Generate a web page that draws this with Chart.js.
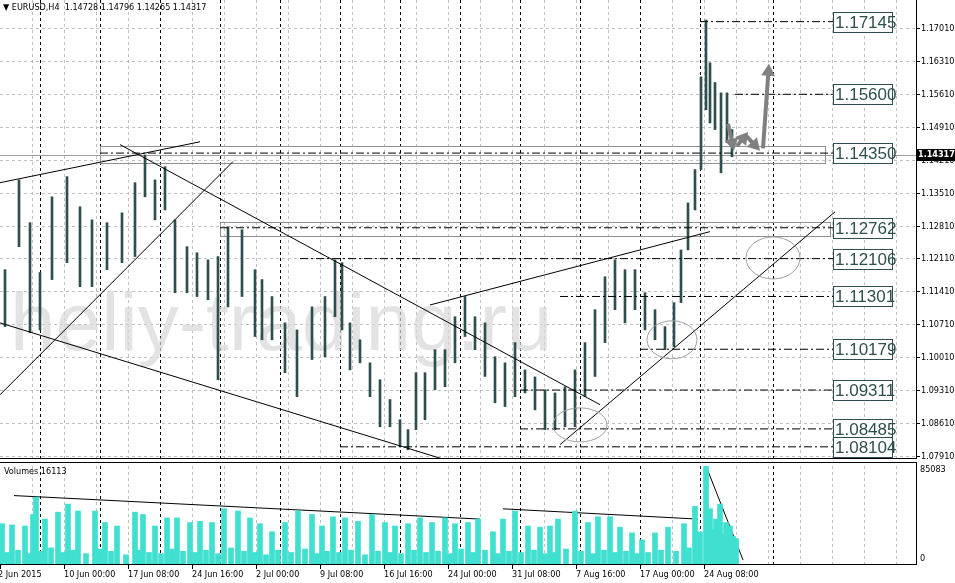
<!DOCTYPE html>
<html>
<head>
<meta charset="utf-8">
<script src="https://cdn.jsdelivr.net/npm/chart.js@4"></script>
<style>
body { margin: 0; background: #fff; width: 955px; height: 583px; overflow: hidden; position: relative; }
canvas { position: absolute; left: 0; }
#price { top: 0; }
#volume { top: 461px; }
</style>
</head>
<body>
<canvas id="price" width="955" height="459"></canvas>
<canvas id="volume" width="955" height="122"></canvas>
<script>
// bar positions (chart x) and high / low of each H4 bar group
const barX = [5,19,30,40,52,67,80,92,107,122,135,145,155,165,175,187,197,208,218,228,242,255,262,272,285,297,312,325,335,342,350,360,370,380,390,400,408,416,425,435,445,455,465,475,485,495,505,515,525,535,545,555,565,575,585,595,605,615,625,635,645,655,665,674,681,688,695,701,706,710,715,721,727,732];
const barHigh = [1.1187,1.1378,1.1287,1.1181,1.1342,1.1385,1.1321,1.1293,1.1287,1.1308,1.1372,1.1431,1.1378,1.1406,1.1293,1.1236,1.1223,1.1208,1.1215,1.1278,1.1272,1.1187,1.1166,1.1130,1.1074,1.1059,1.1108,1.1130,1.1208,1.1202,1.1074,1.1038,1.0989,1.0953,1.0911,1.0868,1.0847,1.0968,1.0968,1.1017,1.1017,1.1087,1.1130,1.1087,1.1074,1.1002,1.0989,1.1032,1.0974,1.0959,1.0932,1.0925,1.0938,1.0974,1.1032,1.1102,1.1172,1.1208,1.1187,1.1187,1.1138,1.1102,1.1066,1.1117,1.1229,1.1329,1.1400,1.1597,1.1718,1.1627,1.1585,1.1563,1.1563,1.1485];
const barLow = [1.1066,1.1236,1.1053,1.1059,1.1166,1.1202,1.1151,1.1151,1.1187,1.1202,1.1215,1.1342,1.1293,1.1314,1.1138,1.1138,1.1130,1.1123,1.0953,1.1108,1.1130,1.1045,1.1038,1.1038,1.0968,1.0917,1.0996,1.1002,1.1087,1.1059,1.0974,1.0989,1.0917,1.0853,1.0853,1.0811,1.0804,1.0847,1.0868,1.0932,1.0938,1.0989,1.1045,1.1017,1.0960,1.0904,1.0896,1.0917,1.0925,1.0889,1.0847,1.0847,1.0853,1.0853,1.0917,1.0960,1.1032,1.1102,1.1074,1.1102,1.1059,1.1038,1.1017,1.1023,1.1117,1.1229,1.1314,1.1400,1.1527,1.1499,1.1485,1.1393,1.1457,1.1427];

// volume peaks and troughs (thousands)
const volPeakX = [2,12,25,33,36,45,58,68,78,95,105,117,135,143,155,167,177,190,200,212,224,238,250,260,272,285,298,312,322,333,345,358,372,385,395,408,420,432,445,455,468,478,493,503,515,528,540,550,558,575,588,598,610,620,632,642,655,668,684,695,700,706,710,716,720,726,730,733];
const volPeak = [35,34,33,43,58,39,45,52,46,46,36,33,45,43,33,40,40,36,37,36,48,46,40,35,28,36,46,43,33,41,40,37,43,36,33,35,40,36,40,35,36,39,28,39,46,33,32,33,39,46,36,41,41,32,27,21,27,32,35,50,28,85,48,39,52,36,33,24];
const volLowX = [7,18,29,40,51,63,73,86,100,111,126,139,149,161,172,183,195,206,218,231,244,255,266,278,291,305,317,327,339,351,365,378,390,401,414,426,438,450,461,473,485,498,509,521,534,545,554,566,581,593,604,615,626,637,648,661,676,689,713,723,736];
const volLow = [10,12,9,11,14,10,12,9,13,11,8,12,10,9,13,11,10,12,9,14,11,10,8,12,10,13,9,11,10,12,8,11,10,9,12,10,11,9,13,10,12,9,11,10,12,9,10,13,11,9,12,10,11,9,10,12,11,14,30,26,22];
const volMax = 85083;

const priceTicks = [1.0791,1.0861,1.0931,1.1001,1.1071,1.1141,1.1211,1.1281,1.1351,1.1421,1.1491,1.1561,1.1631,1.1701];
const levels = [1.17145,1.15600,1.14350,1.12762,1.12106,1.11301,1.10179,1.09311,1.08485,1.08104];
const levelStart = [700,735,100,220,300,560,640,520,520,340];
const timeLabels = ["2 Jun 2015","10 Jun 00:00","17 Jun 08:00","24 Jun 16:00","2 Jul 00:00","9 Jul 08:00","16 Jul 16:00","24 Jul 00:00","31 Jul 08:00","7 Aug 16:00","17 Aug 00:00","24 Aug 08:00"];
const timeLabelX = [0,64,128,192,256,320,384,448,512,576,640,704];
const weekSeps = [40,100,160,220,280,340,400,460,520,580,640,700,773];
const lastPrice = 1.14317;

// trend lines [x1, p1, x2, p2]
const trendLines = [
  [0,1.1372,200,1.1459],
  [0,1.1074,445,1.0783],
  [120,1.1453,600,1.0900],
  [0,1.0921,233,1.1417],
  [430,1.1112,710,1.1268],
  [560,1.0815,835,1.1310]
];
const volLines = [[14,59400,480,39000],[503,47900,698,39000],[706,85083,743,3500]];

const FONT = "'DejaVu Sans Condensed', 'DejaVu Sans'";

function vGrid(chart) {
  const {ctx, chartArea: a, scales: {x}} = chart;
  ctx.save();
  ctx.lineWidth = 1;
  ctx.setLineDash([3, 3]);
  ctx.strokeStyle = "#c0c0c0";
  for (let gx = 32; gx < 916; gx += 32) {
    const px = Math.round(x.getPixelForValue(gx)) + 0.5;
    ctx.beginPath(); ctx.moveTo(px, a.top); ctx.lineTo(px, a.bottom); ctx.stroke();
  }
  ctx.strokeStyle = "#000";
  weekSeps.forEach(v => {
    const px = Math.round(x.getPixelForValue(v)) + 0.5;
    ctx.beginPath(); ctx.moveTo(px, a.top); ctx.lineTo(px, a.bottom); ctx.stroke();
  });
  ctx.restore();
}

const priceGrid = {
  id: "priceGrid",
  beforeDatasetsDraw(chart) {
    const {ctx, chartArea: a, scales: {x, y}} = chart;
    ctx.save();
    ctx.lineWidth = 1;
    ctx.setLineDash([3, 3]);
    ctx.strokeStyle = "#c0c0c0";
    priceTicks.forEach(v => {
      const py = Math.round(y.getPixelForValue(v)) + 0.5;
      ctx.beginPath(); ctx.moveTo(a.left, py); ctx.lineTo(a.right, py); ctx.stroke();
    });
    ctx.restore();
    vGrid(chart);
    ctx.save();
    // watermark
    ctx.fillStyle = "rgba(215,215,215,0.7)";
    ctx.font = "82px 'Liberation Sans'";
    ctx.fillText("heliy-trading.ru", 10, 350);
    // zones
    ctx.lineWidth = 1;
    ctx.strokeStyle = "#909090";
    [[100, 825, 1.1450, 1.1414], [220, 830, 1.1289, 1.1259]].forEach(r => {
      const x1 = x.getPixelForValue(r[0]), x2 = x.getPixelForValue(r[1]);
      const y1 = y.getPixelForValue(r[2]), y2 = y.getPixelForValue(r[3]);
      ctx.strokeRect(Math.round(x1) + 0.5, Math.round(y1) + 0.5, Math.round(x2 - x1), Math.round(y2 - y1));
    });
    const ly = Math.round(y.getPixelForValue(lastPrice)) + 0.5;
    ctx.strokeStyle = "#a0a0a0";
    ctx.beginPath(); ctx.moveTo(a.left, ly); ctx.lineTo(a.right, ly); ctx.stroke();
    ctx.restore();
  },
  afterDatasetsDraw(chart) {
    const {ctx, chartArea: a, scales: {x, y}} = chart;
    ctx.save();
    // ellipses
    ctx.strokeStyle = "#a0a0a0";
    ctx.lineWidth = 1;
    [[580, 1.0857, 27, 17], [672, 1.1038, 25, 19], [773, 1.1212, 27, 21]].forEach(e => {
      ctx.beginPath();
      ctx.ellipse(x.getPixelForValue(e[0]), y.getPixelForValue(e[1]), e[2], e[3], 0, 0, Math.PI * 2);
      ctx.stroke();
    });
    // forecast arrows
    ctx.strokeStyle = "#808080"; ctx.fillStyle = "#808080"; ctx.lineWidth = 4;
    const arrow = (x1, p1, x2, p2) => {
      const ax = x.getPixelForValue(x1), ay = y.getPixelForValue(p1);
      const bx = x.getPixelForValue(x2), by = y.getPixelForValue(p2);
      const ang = Math.atan2(by - ay, bx - ax);
      ctx.beginPath(); ctx.moveTo(ax, ay); ctx.lineTo(bx - 8 * Math.cos(ang), by - 8 * Math.sin(ang)); ctx.stroke();
      ctx.beginPath(); ctx.moveTo(bx, by);
      ctx.lineTo(bx - 12 * Math.cos(ang) + 7 * Math.sin(ang), by - 12 * Math.sin(ang) - 7 * Math.cos(ang));
      ctx.lineTo(bx - 12 * Math.cos(ang) - 7 * Math.sin(ang), by - 12 * Math.sin(ang) + 7 * Math.cos(ang));
      ctx.closePath(); ctx.fill();
    };
    arrow(728, 1.1497, 734, 1.1440);
    arrow(737, 1.1450, 748, 1.1480);
    arrow(746, 1.1472, 760, 1.1440);
    arrow(763, 1.1445, 769, 1.1625);
    // level boxes
    ctx.lineWidth = 1;
    ctx.font = "17px 'Liberation Sans'";
    ctx.textBaseline = "middle";
    levels.forEach(v => {
      const py = Math.round(y.getPixelForValue(v));
      ctx.fillStyle = "#fff"; ctx.strokeStyle = "#2f4f4f";
      ctx.fillRect(833, py - 10, 59, 20);
      ctx.strokeRect(833.5, py - 9.5, 59, 20);
      ctx.fillStyle = "#2f4f4f";
      ctx.fillText(v.toFixed(5), 835, py + 1);
    });
    // price axis labels
    ctx.fillStyle = "#000";
    ctx.strokeStyle = "#000";
    ctx.font = "9px " + FONT;
    priceTicks.forEach(v => {
      const py = Math.round(y.getPixelForValue(v)) + 0.5;
      ctx.beginPath(); ctx.moveTo(a.right, py); ctx.lineTo(a.right + 4, py); ctx.stroke();
      ctx.fillText(v.toFixed(5), a.right + 5, py);
    });
    // header
    ctx.fillText("\u25BC EURUSD,H4  1.14728 1.14796 1.14265 1.14317", 3, 8);
    // last price tag
    const ly = Math.round(y.getPixelForValue(lastPrice));
    ctx.fillRect(917, ly - 6, 38, 12);
    ctx.fillStyle = "#fff";
    ctx.font = "bold 9px " + FONT;
    ctx.fillText(lastPrice.toFixed(5), 918, ly);
    // frame
    ctx.beginPath();
    ctx.moveTo(a.right + 0.5, 0); ctx.lineTo(a.right + 0.5, a.bottom);
    ctx.moveTo(0, a.bottom - 0.5); ctx.lineTo(a.right, a.bottom - 0.5);
    ctx.stroke();
    ctx.restore();
  }
};

const priceDatasets = [{
  type: "bar",
  data: barX.map((v, i) => ({x: v, y: [barLow[i], barHigh[i]]})),
  backgroundColor: "#2f4f4f",
  barThickness: 2,
  order: 1
}];
trendLines.forEach(t => priceDatasets.push({
  type: "line",
  data: [{x: t[0], y: t[1]}, {x: t[2], y: t[3]}],
  borderColor: "#000", borderWidth: 1, pointRadius: 0, order: 0
}));
levels.forEach((v, i) => priceDatasets.push({
  type: "line",
  data: [{x: levelStart[i], y: v}, {x: 833, y: v}],
  borderColor: "#000", borderWidth: 1, borderDash: [8, 3, 2, 3], pointRadius: 0, order: 0
}));

new Chart(document.getElementById("price"), {
  data: {datasets: priceDatasets},
  options: {
    responsive: false, animation: false, devicePixelRatio: 1,
    layout: {padding: 0},
    plugins: {legend: {display: false}, tooltip: {enabled: false}},
    scales: {
      x: {type: "linear", min: 0, max: 916, display: false, offset: false},
      y: {
        position: "right", min: 1.07845, max: 1.17605,
        afterFit: s => { s.width = 39; },
        ticks: {display: false},
        grid: {display: false},
        border: {display: false}
      }
    }
  },
  plugins: [priceGrid]
});

const volDeco = {
  id: "volDeco",
  beforeDatasetsDraw(chart) { vGrid(chart); },
  afterDatasetsDraw(chart) {
    const {ctx, chartArea: a, scales: {x}} = chart;
    ctx.save();
    ctx.strokeStyle = "#000";
    ctx.lineWidth = 1;
    ctx.strokeRect(-1, 1.5, a.right + 1.5, 102);
    ctx.beginPath(); ctx.moveTo(0, -1.5); ctx.lineTo(a.right, -1.5); ctx.stroke();
    ctx.fillStyle = "#000";
    ctx.font = "9px " + FONT;
    ctx.textBaseline = "middle";
    ctx.fillText("Volumes 16113", 4, 11);
    ctx.fillText("85083", 920, 9);
    ctx.fillText("0", 920, 98);
    timeLabels.forEach((t, i) => {
      const px = x.getPixelForValue(timeLabelX[i]);
      ctx.fillText(t, px + (i ? 0 : -2), 114);
      ctx.beginPath(); ctx.moveTo(px + 0.5, 104); ctx.lineTo(px + 0.5, 108); ctx.stroke();
    });
    ctx.restore();
  }
};

const volDatasets = [{
  type: "bar",
  data: volPeakX.map((v, i) => ({x: v, y: volPeak[i] * 1000})).concat(volLowX.map((v, i) => ({x: v, y: volLow[i] * 1000}))),
  backgroundColor: "#40e0d0",
  barThickness: 5
}];
volLines.forEach(t => volDatasets.push({
  type: "line",
  data: [{x: t[0], y: t[1]}, {x: t[2], y: t[3]}],
  borderColor: "#000", borderWidth: 1, pointRadius: 0
}));

new Chart(document.getElementById("volume"), {
  data: {datasets: volDatasets},
  options: {
    responsive: false, animation: false, devicePixelRatio: 1,
    layout: {padding: {top: 5, bottom: 19}},
    plugins: {legend: {display: false}, tooltip: {enabled: false}},
    scales: {
      x: {type: "linear", min: 0, max: 916, display: false, offset: false},
      y: {
        position: "right", min: 0, max: volMax,
        afterFit: s => { s.width = 39; },
        ticks: {display: false},
        grid: {display: false},
        border: {display: false}
      }
    }
  },
  plugins: [volDeco]
});
</script>
</body>
</html>
